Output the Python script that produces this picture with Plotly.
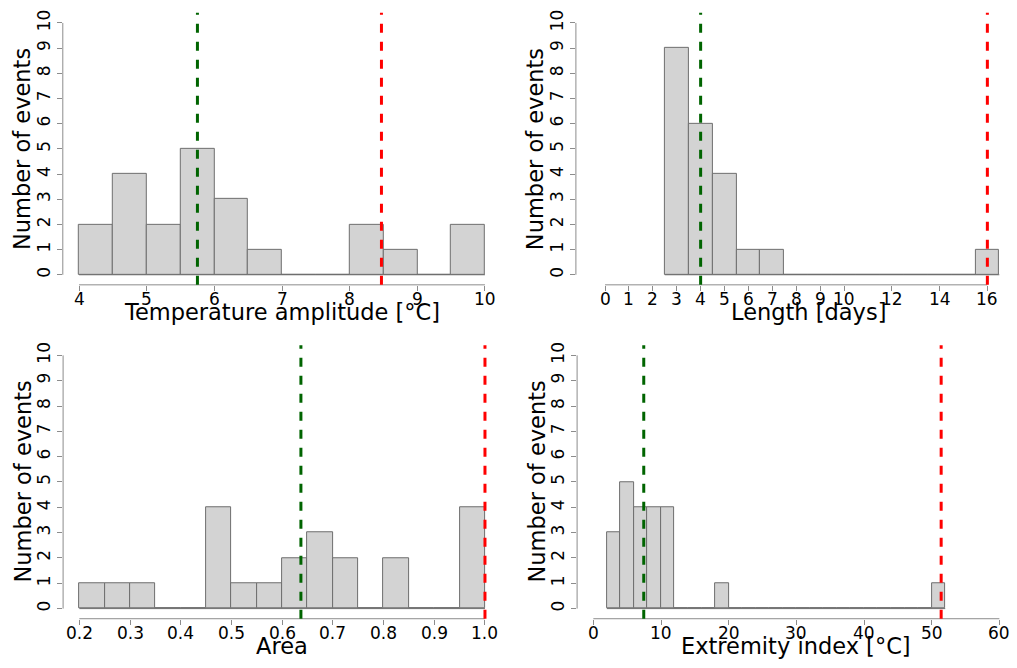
import plotly.graph_objects as go

W, H = 1017, 668

# ---- data -------------------------------------------------------------
# Temperature amplitude [°C]
amp_breaks = [4.0, 4.5, 5.0, 5.5, 6.0, 6.5, 7.0, 7.5, 8.0, 8.5, 9.0, 9.5, 10.0]
amp_counts = [2, 4, 2, 5, 3, 1, 0, 0, 2, 1, 0, 2]
amp_ticks = [4, 5, 6, 7, 8, 9, 10]
amp_green, amp_red = 5.75, 8.47

# Length [days]
len_breaks = [2.5, 3.5, 4.5, 5.5, 6.5, 7.5, 8.5, 9.5, 10.5, 11.5, 12.5, 13.5, 14.5, 15.5, 16.5]
len_counts = [9, 6, 4, 1, 1, 0, 0, 0, 0, 0, 0, 0, 0, 1]
len_ticks = [0, 1, 2, 3, 4, 5, 6, 7, 8, 9, 10, 12, 14, 16]
len_green, len_red = 4.0, 16.0

# Area
area_breaks = [0.20, 0.25, 0.30, 0.35, 0.40, 0.45, 0.50, 0.55, 0.60,
               0.65, 0.70, 0.75, 0.80, 0.85, 0.90, 0.95, 1.00]
area_counts = [1, 1, 1, 0, 0, 4, 1, 1, 2, 3, 2, 0, 2, 0, 0, 4]
area_ticks = [0.2, 0.3, 0.4, 0.5, 0.6, 0.7, 0.8, 0.9, 1.0]
area_green, area_red = 0.637, 1.0

# Extremity index [°C]
ext_breaks = list(range(2, 54, 2))
ext_counts = [3, 5, 4, 4, 4, 0, 0, 0, 1, 0, 0, 0, 0, 0, 0, 0, 0, 0, 0, 0, 0, 0, 0, 0, 1]
ext_ticks = [0, 10, 20, 30, 40, 50, 60]
ext_green, ext_red = 7.45, 51.4

y_ticks = list(range(0, 11))

# ---- styling ----------------------------------------------------------
FONT = "DejaVu Sans"
TICK_SIZE = 17
TITLE_SIZE = 22.5
AXIS_COL = "#8c8c8c"
BAR_FILL = "#d3d3d3"
BAR_EDGE = "#6e6e6e"
GREEN = "#006400"
RED = "#ff0000"

# panel geometry in pixels: (left, right) and (top, bottom) of each plot region
panels = [
    dict(name="1", breaks=amp_breaks, counts=amp_counts, ticks=amp_ticks,
         ticktext=[str(t) for t in amp_ticks], green=amp_green, red=amp_red,
         xrange=[3.76, 10.24], px=(62.8, 501.2), py=(9.9, 283.1),
         title="Temperature amplitude [°C]", title_x=None),
    dict(name="2", breaks=len_breaks, counts=len_counts, ticks=len_ticks,
         ticktext=[str(t) for t in len_ticks], green=len_green, red=len_red,
         xrange=[-1.22, 17.24], px=(575.9, 1017.0), py=(9.9, 283.1),
         title="Length [days]", title_x=8.5),
    dict(name="3", breaks=area_breaks, counts=area_counts, ticks=area_ticks,
         ticktext=[f"{t:.1f}" for t in area_ticks], green=area_green, red=area_red,
         xrange=[0.168, 1.032], px=(63.1, 501.2), py=(343.8, 618.5),
         title="Area", title_x=None),
    dict(name="4", breaks=ext_breaks, counts=ext_counts, ticks=ext_ticks,
         ticktext=[str(t) for t in ext_ticks], green=ext_green, red=ext_red,
         xrange=[-2.4, 62.4], px=(577.1, 1015.6), py=(343.8, 618.5),
         title="Extremity index [°C]", title_x=None),
]

fig = go.Figure()
layout = dict(
    width=W, height=H,
    margin=dict(l=0, r=0, t=0, b=0),
    paper_bgcolor="white", plot_bgcolor="white",
    showlegend=False,
    font=dict(family=FONT, color="black", size=TICK_SIZE),
)
shapes, annotations = [], []

for p in panels:
    n = p["name"]
    xa = "x" if n == "1" else "x" + n
    ya = "y" if n == "1" else "y" + n
    xkey = "xaxis" if n == "1" else "xaxis" + n
    ykey = "yaxis" if n == "1" else "yaxis" + n

    br = p["breaks"]
    centers = [(a + b) / 2 for a, b in zip(br[:-1], br[1:])]
    widths = [b - a for a, b in zip(br[:-1], br[1:])]

    # baseline under the histogram (empty bins show as a flat line)
    fig.add_trace(go.Scatter(
        x=[br[0], br[-1]], y=[0, 0], mode="lines",
        line=dict(color=BAR_EDGE, width=1), xaxis=xa, yaxis=ya,
        hoverinfo="skip"))
    fig.add_trace(go.Bar(
        x=centers, y=p["counts"], width=widths,
        marker=dict(color=BAR_FILL, line=dict(color=BAR_EDGE, width=1)),
        xaxis=xa, yaxis=ya))

    left, right = p["px"]
    top, bottom = p["py"]
    layout[xkey] = dict(
        domain=[left / W, right / W], range=p["xrange"], anchor=ya,
        showgrid=False, zeroline=False, showline=False,
        tickmode="array", tickvals=p["ticks"], showticklabels=False,
        ticks="outside", ticklen=5, tickwidth=1, tickcolor=AXIS_COL,
        fixedrange=True)
    layout[ykey] = dict(
        domain=[1 - bottom / H, 1 - top / H], range=[-0.4, 10.4], anchor=xa,
        showgrid=False, zeroline=False, showline=False,
        tickmode="array", tickvals=y_ticks, ticktext=[str(t) for t in y_ticks],
        ticks="outside", ticklen=5, tickwidth=1, tickcolor=AXIS_COL,
        tickangle=-90,
        tickfont=dict(family=FONT, size=TICK_SIZE, color="black"),
        fixedrange=True)

    # x tick labels, set close under the axis line
    for val, txt in zip(p["ticks"], p["ticktext"]):
        annotations.append(dict(text=txt, xref=xa, x=val,
                                yref=f"{ya} domain", y=0, yshift=-2,
                                xanchor="center", yanchor="top", showarrow=False,
                                font=dict(family=FONT, size=TICK_SIZE)))

    # axis lines spanning the first to last tick
    shapes.append(dict(type="line", xref=xa, yref=f"{ya} domain",
                       x0=p["ticks"][0], x1=p["ticks"][-1], y0=0, y1=0,
                       line=dict(color=AXIS_COL, width=1)))
    shapes.append(dict(type="line", xref=f"{xa} domain", yref=ya,
                       x0=0, x1=0, y0=y_ticks[0], y1=y_ticks[-1],
                       line=dict(color=AXIS_COL, width=1)))

    # reference lines
    for val, col in ((p["green"], GREEN), (p["red"], RED)):
        shapes.append(dict(type="line", xref=xa, yref=f"{ya} domain",
                           x0=val, x1=val, y0=0, y1=1,
                           line=dict(color=col, width=3, dash="9px,9px")))

    # axis titles
    tx = dict(xref=f"{xa} domain", x=0.5) if p["title_x"] is None else dict(xref=xa, x=p["title_x"])
    annotations.append(dict(text=p["title"], yref=f"{ya} domain", y=0, yshift=-12,
                            xanchor="center", yanchor="top", showarrow=False,
                            font=dict(family=FONT, size=TITLE_SIZE), **tx))
    annotations.append(dict(text="Number of events", xref=f"{xa} domain", x=0,
                            xshift=-40.6, yref=f"{ya} domain", y=0.5,
                            xanchor="center", yanchor="middle", textangle=-90,
                            showarrow=False,
                            font=dict(family=FONT, size=TITLE_SIZE)))

layout["shapes"] = shapes
layout["annotations"] = annotations
layout["bargap"] = 0
fig.update_layout(**layout)

fig.write_html("out.html")
